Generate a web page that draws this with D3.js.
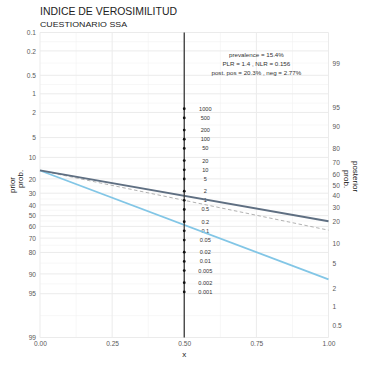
<!DOCTYPE html>
<html>
<head>
<meta charset="utf-8">
<script src="https://cdn.jsdelivr.net/npm/d3@7"></script>
<style>
body { margin: 0; background: #fff; }
</style>
</head>
<body>
<div id="plot"></div>
<script>
// chart values
const probTicks = [0.1, 0.2, 0.5, 1, 2, 5, 10, 20, 30, 40, 50, 60, 70, 80, 90, 95, 99]   // percent
const lrTicks = [1000, 500, 200, 100, 50, 20, 10, 5, 2, 1, 0.5, 0.2, 0.1, 0.05, 0.02, 0.01, 0.005, 0.002, 0.001]
const lrLabels = ["1000", "500", "200", "100", "50", "20", "10", "5", "2", "1", "0.5", "0.2", "0.1", "0.05", "0.02", "0.01", "0.005", "0.002", "0.001"]
const xTicks = [0, 0.25, 0.5, 0.75, 1]
const prevalence = 15.4
const PLR = 1.4
const NLR = 0.156
const notes = ["prevalence = 15.4%", "PLR = 1.4 , NLR = 0.156", "post. pos = 20.3% , neg = 2.77%"]

const W = 365, H = 367
const mL = 40, mR = 328.5, mT = 32.5, mB = 337.5

const logit = p => Math.log(p / (1 - p))
const lo = logit(probTicks[0] / 100)
const hi = logit(probTicks[probTicks.length - 1] / 100)
const mid = (lo + hi) / 2

const svg = d3.select("#plot").append("svg").attr("width", W).attr("height", H).attr("viewBox", [0, 0, W, H])
  .attr("font-family", "'Liberation Sans', Arial, sans-serif")

const x = d3.scaleLinear().domain([0, 1]).range([mL, mR])
const y = d3.scaleLinear().domain([lo, hi]).range([mT, mB])
// posterior axis is the mirrored logit scale
const yPost = d3.scaleLinear().domain([mid - lo, mid - hi]).range([mT, mB])
// likelihood ratio position on the centre line
const yLR = lr => y(mid / 2 - Math.log(lr) / 2)

// grid
const majors = probTicks.map(p => logit(p / 100))
const minors = d3.pairs(majors).map(([a, b]) => (a + b) / 2)
const grid = svg.append("g")
grid.selectAll(".ymin").data(minors).join("line")
  .attr("x1", mL).attr("x2", mR)
  .attr("y1", d => y(d)).attr("y2", d => y(d))
  .attr("stroke", "#f2f2f2").attr("stroke-width", 0.6)
grid.selectAll(".xmin").data(d3.pairs(xTicks).map(([a, b]) => (a + b) / 2)).join("line")
  .attr("x1", d => x(d)).attr("x2", d => x(d))
  .attr("y1", mT).attr("y2", mB)
  .attr("stroke", "#f2f2f2").attr("stroke-width", 0.6)
grid.selectAll(".ymaj").data(majors).join("line")
  .attr("x1", mL).attr("x2", mR)
  .attr("y1", d => y(d)).attr("y2", d => y(d))
  .attr("stroke", "#ebebeb").attr("stroke-width", 1)
grid.selectAll(".xmaj").data(xTicks).join("line")
  .attr("x1", d => x(d)).attr("x2", d => x(d))
  .attr("y1", mT).attr("y2", mB)
  .attr("stroke", "#ebebeb").attr("stroke-width", 1)

// axes
function styleAxis(g) {
  g.select(".domain").remove()
  g.selectAll(".tick line").remove()
  g.selectAll("text").attr("fill", "#5a5a5a").attr("font-size", 6.6)
    .attr("font-family", "'Liberation Sans', Arial, sans-serif")
}
svg.append("g").attr("transform", `translate(${mL},0)`)
  .call(d3.axisLeft(y).tickValues(majors).tickFormat((d, i) => probTicks[i]).tickSize(0).tickPadding(4))
  .call(styleAxis)
const postVals = majors.filter(v => yPost(v) >= mT - 0.1 && yPost(v) <= mB + 0.1)
svg.append("g").attr("transform", `translate(${mR},0)`)
  .call(d3.axisRight(yPost).tickValues(postVals)
    .tickFormat(v => probTicks[majors.indexOf(v)]).tickSize(0).tickPadding(4))
  .call(styleAxis)
svg.append("g").attr("transform", `translate(0,${mB})`)
  .call(d3.axisBottom(x).tickValues(xTicks).tickFormat(d3.format(".2f")).tickSize(0).tickPadding(4))
  .call(styleAxis)

// LR scale labels
svg.append("g").selectAll("text").data(lrTicks).join("text")
  .attr("x", x(0.573)).attr("y", d => yLR(d)).attr("dy", "0.35em")
  .attr("text-anchor", "middle").attr("font-size", 5.6).attr("fill", "#333")
  .text((d, i) => lrLabels[i])

// lines
const yPrior = logit(prevalence / 100)
const lines = [
  {lr: 1, color: "#a8a8a8", width: 0.9, dash: "3.5,2.5"},
  {lr: NLR, color: "#82c6e6", width: 1.8, dash: null},
  {lr: PLR, color: "#5f6f82", width: 1.8, dash: null}
]
const lineGen = d3.line().x(d => x(d[0])).y(d => y(d[1]))
svg.append("g").selectAll("path").data(lines).join("path")
  .attr("d", d => {
    const c = mid / 2 - Math.log(d.lr) / 2
    return lineGen([[0, yPrior], [1, 2 * c - yPrior]])
  })
  .attr("fill", "none").attr("stroke", d => d.color).attr("stroke-width", d => d.width)
  .attr("stroke-dasharray", d => d.dash)

svg.append("line")
  .attr("x1", x(0.5)).attr("x2", x(0.5)).attr("y1", mT).attr("y2", mB)
  .attr("stroke", "#3a3a3a").attr("stroke-width", 1.3)
svg.append("g").selectAll("circle").data(lrTicks).join("circle")
  .attr("cx", x(0.5)).attr("cy", d => yLR(d)).attr("r", 1.4).attr("fill", "#111")

// notes
svg.append("g").selectAll("text").data(notes).join("text")
  .attr("x", x(0.75)).attr("y", (d, i) => 54.5 + i * 9).attr("dy", "0.35em")
  .attr("text-anchor", "middle").attr("font-size", 6.2).attr("fill", "#333")
  .text(d => d)

// titles
svg.append("text").attr("x", mL).attr("y", 14.5).attr("font-size", 10.5).attr("fill", "#222")
  .attr("textLength", 137).attr("lengthAdjust", "spacingAndGlyphs")
  .text("INDICE DE VEROSIMILITUD")
svg.append("text").attr("x", mL).attr("y", 27).attr("font-size", 8).attr("fill", "#222")
  .attr("textLength", 87).attr("lengthAdjust", "spacingAndGlyphs")
  .text("CUESTIONARIO SSA")
svg.append("text").attr("x", x(0.5)).attr("y", 356.5).attr("text-anchor", "middle")
  .attr("font-size", 8).attr("fill", "#222").text("x")

const lt = svg.append("text").attr("transform", "translate(0,184) rotate(-90)")
  .attr("text-anchor", "middle").attr("font-size", 8).attr("fill", "#222")
lt.append("tspan").attr("x", -1).attr("y", 15).text("prior")
lt.append("tspan").attr("x", 5).attr("y", 23).text("prob.")
const rt = svg.append("text").attr("transform", "translate(0,180) rotate(90)")
  .attr("text-anchor", "middle").attr("font-size", 8).attr("fill", "#222")
rt.append("tspan").attr("x", -3.5).attr("y", -352.5).text("posterior")
rt.append("tspan").attr("x", -1).attr("y", -344).text("prob.")
</script>
</body>
</html>
